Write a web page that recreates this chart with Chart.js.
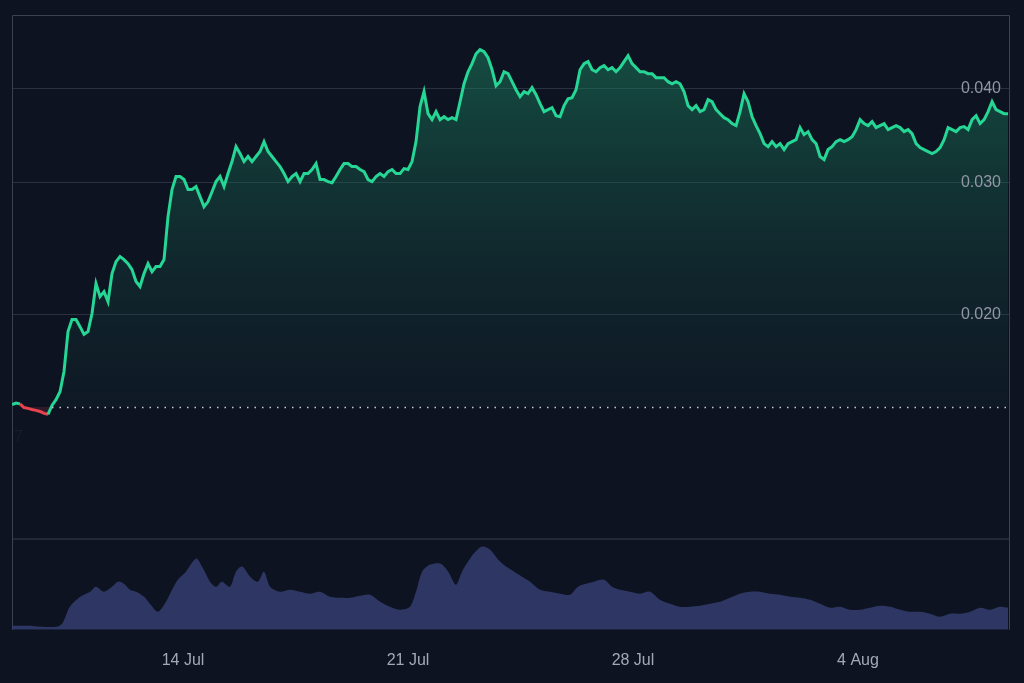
<!DOCTYPE html>
<html><head><meta charset="utf-8">
<script src="https://cdn.jsdelivr.net/npm/chart.js@4.4.1/dist/chart.umd.min.js"></script>
<style>html,body{margin:0;padding:0;background:#0e1322;}#w{width:1024px;height:683px;}</style>
</head><body><div id="w"><canvas id="c"></canvas></div>
<script>
// time in days of July (32 = 1 Aug)
const priceStart = 8.68, priceStep = 0.12446;
const prices = [.01517,.01524,.01520,.01503,.01499,.01494,.0149,.01485,.01476,.01472,.01513,.0154,.01578,.01679,.01898,.0197,.0197,.01927,.01882,.01898,.02006,.022,.02113,.02146,.02081,.02268,.02353,.0239,.02368,.02339,.02296,.02214,.0218,.02268,.02339,.02282,.02318,.02318,.02368,.02702,.02937,.03056,.03056,.03028,.02937,.02937,.02963,.02873,.02786,.0283,.02917,.03009,.03056,.02963,.03084,.032,.0335,.0328,.032,.0325,.032,.0325,.033,.03402,.033,.0325,.032,.03151,.03084,.03009,.03056,.03084,.03009,.03084,.03084,.03123,.0318,.03028,.03028,.03009,.02999,.03056,.03123,.0318,.0318,.03151,.03151,.03123,.03103,.03028,.03009,.03056,.03084,.03056,.03103,.03123,.03084,.03084,.03132,.03123,.032,.03402,.03788,.03966,.03707,.0364,.0373,.0364,.03673,.0364,.03662,.0364,.03846,.04064,.04217,.04323,.04456,.04513,.04484,.04403,.04243,.0404,.0409,.04217,.04192,.0409,.0399,.03906,.03966,.03942,.04015,.0393,.03823,.0373,.03753,.03776,.03684,.03673,.038,.03882,.03894,.0399,.04243,.04323,.0435,.04243,.04217,.0427,.04296,.04243,.0427,.04217,.0427,.0435,.0443,.04323,.0427,.04217,.04217,.04192,.04192,.04141,.04141,.04141,.0409,.04064,.0409,.04064,.03966,.038,.03753,.038,.0373,.03753,.0387,.03846,.03753,.03707,.03662,.0364,.03596,.03574,.0373,.03942,.03846,.03673,.03574,.03487,.03381,.0335,.03402,.0335,.03381,.0332,.03381,.03402,.03423,.03552,.03476,.03508,.03423,.03381,.0325,.0322,.0332,.0335,.03402,.03423,.03402,.03423,.03454,.0353,.0364,.03596,.03574,.03618,.03552,.03574,.03596,.0353,.03552,.03574,.03552,.03508,.0353,.03487,.03381,.0334,.0332,.033,.0328,.033,.0334,.03423,.03552,.0353,.03508,.03552,.03563,.0353,.0364,.03684,.03596,.0364,.0373,.03846,.03753,.0373,.03707,.03707];
const volDays = [8.68,9.24,9.55,10.05,10.24,10.48,10.80,11.11,11.29,11.54,11.79,11.98,12.16,12.35,12.54,12.79,12.97,13.22,13.47,13.66,13.84,14.09,14.41,14.59,14.84,15.03,15.21,15.46,15.65,15.84,16.09,16.33,16.52,16.71,17.02,17.33,17.64,17.95,18.26,18.57,18.89,19.20,19.51,19.82,20.13,20.44,20.75,21.06,21.25,21.44,21.69,22.0,22.25,22.49,22.68,22.87,23.05,23.30,23.55,23.80,24.05,24.30,24.55,24.80,25.11,25.42,25.73,26.04,26.29,26.54,26.79,27.10,27.35,27.60,27.91,28.22,28.53,28.84,29.15,29.46,29.78,30.09,30.40,30.71,31.02,31.33,31.64,31.95,32.26,32.58,32.89,33.20,33.51,33.82,34.13,34.44,34.75,35.06,35.38,35.69,36.0,36.31,36.62,36.93,37.24,37.55,37.86,38.18,38.49,38.80,39.11,39.42,39.67];
const volumes = [4,4,3,3,6,23,33,38,43,38,43,48,46,40,38,33,26,18,28,40,50,58,71,63,48,43,48,43,58,63,53,48,58,43,38,40,38,36,38,33,32,32,34,35,28,23,20,23,38,58,65,66,58,45,58,68,76,83,80,70,63,58,53,48,40,38,36,35,43,46,48,50,43,40,38,36,38,30,26,23,23,24,26,28,32,36,38,38,36,35,33,32,30,26,22,23,20,20,22,24,23,20,18,18,16,13,16,16,18,22,20,23,22];
const xTickDays = [14,21,28,35];
const xTickLabels = ['14 Jul','21 Jul','28 Jul','4 Aug'];
const yTicks = [0.02,0.03,0.04];
const baseline = 0.01506;

const priceData = prices.map((p,i)=>({x: priceStart + i*priceStep, y: p}));
const n = Math.min(volDays.length, volumes.length);
const volData = []; for (let i=0;i<n;i++) volData.push({x: volDays[i], y: volumes[i]});

const GREEN='#26d695', RED='#e8424f';
const framePlugin = {
  id:'frame',
  beforeDatasetsDraw(chart){
    const {ctx, chartArea:a, scales} = chart;
    ctx.save();
    ctx.strokeStyle='#3a4152'; ctx.lineWidth=1;
    ctx.beginPath();
    ctx.moveTo(a.left+0.5,a.bottom); ctx.lineTo(a.left+0.5,a.top+0.5); ctx.lineTo(a.right-0.5,a.top+0.5); ctx.lineTo(a.right-0.5,a.bottom);
    const sep = scales.y.bottom;
    ctx.moveTo(a.left,sep+0.5); ctx.lineTo(a.right,sep+0.5);
    ctx.stroke();
    ctx.restore();
  },
  afterDatasetsDraw(chart){
    const {ctx, chartArea:a, scales} = chart;
    const yb = Math.round(scales.y.getPixelForValue(baseline))+0.5;
    ctx.save();
    ctx.strokeStyle='#c8ccd6'; ctx.lineWidth=1.5; ctx.setLineDash([1.5,6]);
    ctx.beginPath(); ctx.moveTo(a.left+40,yb); ctx.lineTo(a.right-2,yb); ctx.stroke();
    ctx.setLineDash([]);
    ctx.fillStyle='#1a1d24'; ctx.font='16px "Liberation Sans", Arial'; ctx.textBaseline='top';
    ctx.fillText('7', a.left+2, yb+22);
    // y tick labels, inside on the right
    ctx.fillStyle='#9297a6'; ctx.textAlign='right'; ctx.textBaseline='middle';
    scales.y.ticks.forEach(t => {
      ctx.fillText(t.value.toFixed(3), a.right-9, scales.y.getPixelForValue(t.value));
    });
    ctx.restore();
  }
};

new Chart(document.getElementById('c'), {
  type:'line',
  data:{datasets:[
    {data: priceData, yAxisID:'y', borderWidth:3, pointRadius:0, tension:0,
     borderColor: GREEN,
     segment:{borderColor: c => c.p1.parsed.y < baseline ? RED : GREEN},
     fill:{target:{value:baseline}, above: (ctx)=>{
        const ch=ctx.chart; const a=ch.chartArea; if(!a) return 'rgba(30,120,90,0.4)';
        const g=ch.ctx.createLinearGradient(0,a.top,0,ch.scales.y.getPixelForValue(baseline));
        g.addColorStop(0,'rgba(28,140,100,0.55)'); g.addColorStop(1,'rgba(20,60,55,0.15)'); return g;},
       below:'rgba(232,66,79,0.15)'}},
    {data: volData, yAxisID:'y2', borderWidth:0, pointRadius:0, tension:0.3,
     fill:'origin', backgroundColor:'rgba(52,62,110,0.85)'}
  ]},
  options:{
    responsive:true, maintainAspectRatio:false, animation:false,
    layout:{padding:{left:12,top:15,right:14,bottom:0}},
    plugins:{legend:{display:false}, tooltip:{enabled:false}},
    scales:{
      x:{type:'linear', min:8.68, max:39.73, grid:{display:false}, border:{display:false},
        afterBuildTicks: s => { s.ticks = xTickDays.map(v=>({value:v})); },
        ticks:{color:'#a3a8b6', font:{size:16, family:'"Liberation Sans", Arial'}, padding:13, maxRotation:0,
          callback: v => xTickLabels[xTickDays.indexOf(v)] ?? ''}},
      y:{type:'logarithmic', position:'right', stack:'v', stackWeight:522, min:0.01005, max:0.0502, offset:false,
        afterBuildTicks: s => { s.ticks = yTicks.map(v=>({value:v})); },
        afterFit: s => { s.width = 0; },
        grid:{color:'#2a3142', drawTicks:false}, border:{display:false},
        ticks:{display:false}},
      y2:{type:'linear', position:'right', stack:'v', stackWeight:91, min:0, max:91, offset:false,
        afterFit: s => { s.width = 0; },
        grid:{display:false, drawTicks:false}, border:{display:false}, ticks:{display:false}}
    }
  },
  plugins:[framePlugin]
});
</script></body></html>
